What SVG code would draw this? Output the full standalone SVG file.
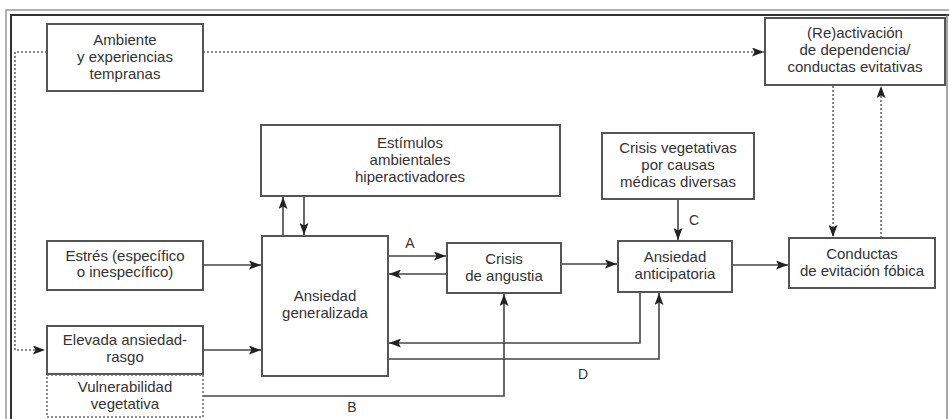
<svg xmlns="http://www.w3.org/2000/svg" width="949" height="419" viewBox="0 0 949 419">
<style>
.box{fill:#fff;stroke:#555;stroke-width:2}
.dbox{fill:#fff;stroke:#666;stroke-width:1.5;stroke-dasharray:2,2}
.t{font-family:"Liberation Sans","Open Sans",Arial,sans-serif;font-size:15px;fill:#333;text-anchor:middle}
.lbl{font-family:"Liberation Sans","Open Sans",Arial,sans-serif;font-size:14px;fill:#333;text-anchor:middle}
.c{fill:none;stroke:#444;stroke-width:1.6}
.d{fill:none;stroke:#666;stroke-width:1.6;stroke-dasharray:2,2}
</style>
<defs>
<marker id="ah" viewBox="0 0 12 9" refX="12" refY="4.5" markerWidth="12" markerHeight="9" markerUnits="userSpaceOnUse" orient="auto">
<path d="M0,0 L12,4.5 L0,9 L2.5,4.5 Z" fill="#222"/>
</marker>
</defs>
<rect width="949" height="419" fill="#fff"/>
<g id="frame">
<path d="M6,419 V10 H949" fill="none" stroke="#999" stroke-width="1.5"/>
<path d="M11,419 V15 H949" fill="none" stroke="#333" stroke-width="2"/>
<path d="M947,15 V419" fill="none" stroke="#888" stroke-width="1.5"/>
</g>
<g id="connectors">
<path class="d" d="M47,52 H15 V350 H45" marker-end="url(#ah)"/>
<path class="d" d="M203,52 H764" marker-end="url(#ah)"/>
<path class="d" d="M833,86 V237" marker-end="url(#ah)"/>
<path class="d" d="M881,238 V86" marker-end="url(#ah)"/>
<path class="c" d="M283,236 V197" marker-end="url(#ah)"/>
<path class="c" d="M304,196 V235" marker-end="url(#ah)"/>
<path class="c" d="M203,265 H261" marker-end="url(#ah)"/>
<path class="c" d="M203,350 H261" marker-end="url(#ah)"/>
<path class="c" d="M388,256 H446" marker-end="url(#ah)"/>
<path class="c" d="M447,274 H389" marker-end="url(#ah)"/>
<path class="c" d="M561,264 H617" marker-end="url(#ah)"/>
<path class="c" d="M678,199 V240" marker-end="url(#ah)"/>
<path class="c" d="M732,265 H788" marker-end="url(#ah)"/>
<path class="c" d="M640,292 V343 H389" marker-end="url(#ah)"/>
<path class="c" d="M388,359 H659 V293" marker-end="url(#ah)"/>
<path class="c" d="M203,396 H504 V294" marker-end="url(#ah)"/>
<text class="lbl" x="410" y="248">A</text>
<text class="lbl" x="352" y="412">B</text>
<text class="lbl" x="694" y="225">C</text>
<text class="lbl" x="583" y="379">D</text>
</g>
<g id="ambiente">
<rect class="box" x="47" y="24" width="156" height="67"/>
<text class="t" x="125" y="45">Ambiente</text>
<text class="t" x="125" y="62">y experiencias</text>
<text class="t" x="125" y="79">tempranas</text>
</g>
<g id="reactivacion">
<rect class="box" x="765" y="18" width="180" height="67"/>
<text class="t" x="855" y="38">(Re)activación</text>
<text class="t" x="855" y="55">de dependencia/</text>
<text class="t" x="855" y="72">conductas evitativas</text>
</g>
<g id="estimulos">
<rect class="box" x="261" y="125" width="299" height="71"/>
<text class="t" x="410" y="148">Estímulos</text>
<text class="t" x="410" y="165">ambientales</text>
<text class="t" x="410" y="182">hiperactivadores</text>
</g>
<g id="crisis-vegetativas">
<rect class="box" x="602" y="133" width="152" height="66"/>
<text class="t" x="678" y="153">Crisis vegetativas</text>
<text class="t" x="678" y="170">por causas</text>
<text class="t" x="678" y="187">médicas diversas</text>
</g>
<g id="estres">
<rect class="box" x="47" y="241" width="156" height="49"/>
<text class="t" x="125" y="261">Estrés (específico</text>
<text class="t" x="125" y="277">o inespecífico)</text>
</g>
<g id="ansiedad-generalizada">
<rect class="box" x="262" y="236" width="126" height="140"/>
<text class="t" x="325" y="301">Ansiedad</text>
<text class="t" x="325" y="318">generalizada</text>
</g>
<g id="crisis-angustia">
<rect class="box" x="447" y="243" width="114" height="50"/>
<text class="t" x="504" y="264">Crisis</text>
<text class="t" x="504" y="281">de angustia</text>
</g>
<g id="ansiedad-anticipatoria">
<rect class="box" x="618" y="241" width="114" height="51"/>
<text class="t" x="675" y="262">Ansiedad</text>
<text class="t" x="675" y="279">anticipatoria</text>
</g>
<g id="conductas">
<rect class="box" x="789" y="238" width="146" height="50"/>
<text class="t" x="862" y="259">Conductas</text>
<text class="t" x="862" y="276">de evitación fóbica</text>
</g>
<g id="elevada">
<rect class="box" x="47" y="326" width="156" height="48"/>
<text class="t" x="125" y="345">Elevada ansiedad-</text>
<text class="t" x="125" y="362">rasgo</text>
</g>
<g id="vulnerabilidad">
<rect class="dbox" x="47" y="375" width="156" height="42"/>
<text class="t" x="125" y="392">Vulnerabilidad</text>
<text class="t" x="125" y="409">vegetativa</text>
</g>
</svg>
